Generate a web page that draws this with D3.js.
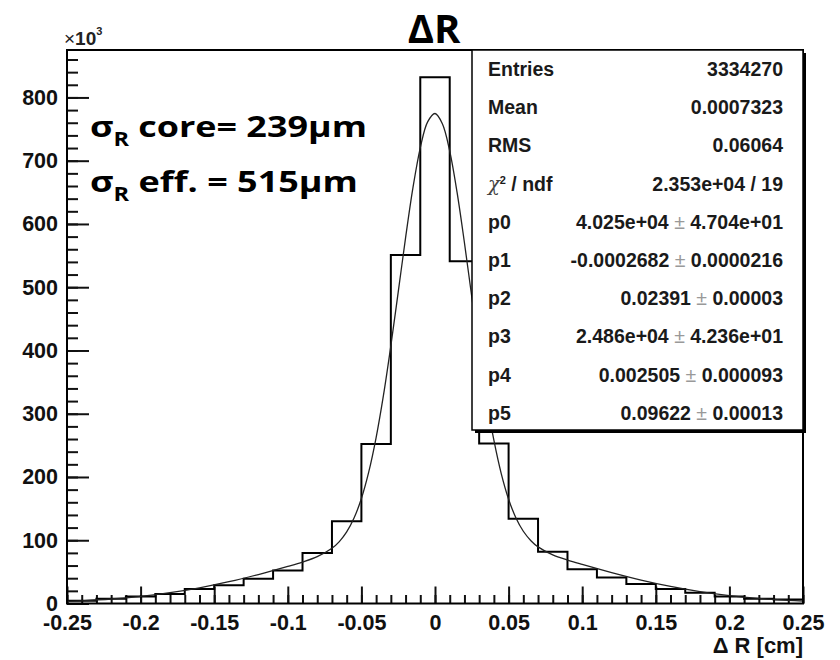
<!DOCTYPE html>
<html lang="en">
<head>
<meta charset="UTF-8">
<title>ΔR</title>
<script src="https://d3js.org/d3.v7.min.js"></script>
<style>
  body { margin: 0; background: #fff; }
  svg { display: block; }
  .axis text { font-family: "Liberation Sans", Arial, sans-serif; font-weight: bold; font-size: 21.5px; fill: #111; }
  .axis line { stroke: #111; stroke-width: 2; }
  .axis path { display: none; }
  .stats text { font-family: "Liberation Sans", Arial, sans-serif; font-weight: bold; font-size: 19.5px; fill: #1a1a1a; }
  .overlay { font-family: "Open Sans", sans-serif; font-weight: bold; fill: #000; }
</style>
</head>
<body>
<script>
// histogram, bins 0.02 cm wide, counts in units of 10^3
const binCenters = [-0.24, -0.22, -0.20, -0.18, -0.16, -0.14, -0.12, -0.10, -0.08, -0.06, -0.04, -0.02, 0,
                    0.02, 0.04, 0.06, 0.08, 0.10, 0.12, 0.14, 0.16, 0.18, 0.20, 0.22, 0.24];
const binCounts = [4.5, 7.5, 11, 15, 23, 29, 39, 52, 80, 130, 252, 551, 832,
                   541, 253, 134, 82, 54, 41, 31, 23, 17, 11, 7.5, 6.5];
const binWidth = 0.02;

// fit curve, points (x in cm, y in 10^3)
const fitX = [-0.25, -0.24, -0.22, -0.20, -0.18, -0.16, -0.14, -0.12, -0.10, -0.09, -0.08, -0.07, -0.065, -0.06,
              -0.055, -0.05, -0.045, -0.04, -0.035, -0.03, -0.025, -0.02, -0.015, -0.01, -0.005, 0,
              0.005, 0.01, 0.015, 0.02, 0.025, 0.03, 0.035, 0.04, 0.045, 0.05, 0.055, 0.06, 0.065, 0.07,
              0.08, 0.09, 0.10, 0.12, 0.14, 0.16, 0.18, 0.20, 0.22, 0.24, 0.25];
const fitY = [3.3, 4.3, 7.1, 11.3, 17.1, 24.8, 34.4, 45.8, 58.6, 65.5, 74.0, 87.2, 97.8, 113.1,
              135.1, 166.0, 208.0, 262.3, 329.3, 407.3, 492.2, 578.0, 656.9, 720.4, 761.3, 774.6,
              758.5, 715.2, 649.9, 570.3, 484.5, 400.3, 323.6, 258.2, 205.4, 164.9, 135.2, 114.2, 99.7, 89.5,
              76.9, 68.7, 61.8, 48.9, 37.1, 27.0, 18.8, 12.5, 8.0, 4.9, 3.8];

const xTicks = [-0.25, -0.2, -0.15, -0.1, -0.05, 0, 0.05, 0.1, 0.15, 0.2, 0.25];
const xTickLabels = ["-0.25", "-0.2", "-0.15", "-0.1", "-0.05", "0", "0.05", "0.1", "0.15", "0.2", "0.25"];
const yTicks = [0, 100, 200, 300, 400, 500, 600, 700, 800];
const yTickLabels = ["0", "100", "200", "300", "400", "500", "600", "700", "800"];

const statLabels = ["Entries", "Mean", "RMS", "χ² / ndf", "p0", "p1", "p2", "p3", "p4", "p5"];
const statValues = ["3334270", "0.0007323", "0.06064", "2.353e+04 / 19",
                    "4.025e+04 ± 4.704e+01", "-0.0002682 ± 0.0000216", "0.02391 ± 0.00003",
                    "2.486e+04 ± 4.236e+01", "0.002505 ± 0.000093", "0.09622 ± 0.00013"];

const width = 840, height = 660;
const margin = { top: 50, right: 37, bottom: 56.5, left: 67 };

const svg = d3.select("body").append("svg")
    .attr("width", width)
    .attr("height", height);

const x = d3.scaleLinear().domain([-0.25, 0.25]).range([margin.left, width - margin.right]);
const y = d3.scaleLinear().domain([0, 875]).range([height - margin.bottom, margin.top]);

// axes (ticks pointing into the frame, ROOT style)
svg.append("g").attr("class", "axis")
    .attr("transform", `translate(${margin.left},0)`)
    .call(d3.axisLeft(y).tickValues(d3.range(0, 875, 20)).tickSizeInner(-11).tickSizeOuter(0).tickFormat(""));
svg.append("g").attr("class", "axis")
    .attr("transform", `translate(${margin.left},0)`)
    .call(d3.axisLeft(y).tickValues(yTicks).tickSizeInner(-22).tickSizeOuter(0).tickPadding(9)
        .tickFormat((d, i) => yTickLabels[i]));

svg.append("g").attr("class", "axis")
    .attr("transform", `translate(0,${y(0)})`)
    .call(d3.axisBottom(x).tickValues(d3.range(-0.25, 0.2501, 0.01)).tickSizeInner(-8.5).tickSizeOuter(0).tickFormat(""));
svg.append("g").attr("class", "axis")
    .attr("transform", `translate(0,${y(0)})`)
    .call(d3.axisBottom(x).tickValues(xTicks).tickSizeInner(-17).tickSizeOuter(0).tickPadding(11)
        .tickFormat((d, i) => xTickLabels[i]));

// histogram outline
const steps = [[binCenters[0] - binWidth / 2, 0]];
binCenters.forEach((c, i) => {
    steps.push([c - binWidth / 2, binCounts[i]]);
    steps.push([c + binWidth / 2, binCounts[i]]);
});
steps.push([binCenters[binCenters.length - 1] + binWidth / 2, 0]);

svg.append("path")
    .datum(steps)
    .attr("fill", "none")
    .attr("stroke", "#000")
    .attr("stroke-width", 2)
    .attr("d", d3.line().x(d => x(d[0])).y(d => y(d[1])));

// fit
svg.append("path")
    .datum(fitX.map((v, i) => [v, fitY[i]]))
    .attr("fill", "none")
    .attr("stroke", "#222")
    .attr("stroke-width", 1.3)
    .attr("d", d3.line().x(d => x(d[0])).y(d => y(d[1])).curve(d3.curveCatmullRom));

// frame
svg.append("rect")
    .attr("x", x(-0.25)).attr("y", y(875))
    .attr("width", x(0.25) - x(-0.25)).attr("height", y(0) - y(875))
    .attr("fill", "none").attr("stroke", "#000").attr("stroke-width", 2);

// x10^3
const mult = svg.append("text")
    .attr("x", 64).attr("y", 45)
    .style("font-family", "'Liberation Sans', Arial, sans-serif").style("font-size", "19px").style("fill", "#222");
mult.append("tspan").text("×").style("font-weight", "normal");
mult.append("tspan").text("10").style("font-weight", "bold");
mult.append("tspan").text("3").attr("dy", -10).style("font-size", "11px").style("font-weight", "bold");

// axis title
svg.append("text")
    .attr("x", 803).attr("y", 653)
    .attr("text-anchor", "end")
    .style("font-family", "'Liberation Sans', Arial, sans-serif")
    .style("font-weight", "bold").style("font-size", "22px").style("fill", "#111")
    .text("Δ R [cm]");

// stats box
const statsX = 472, statsY = 50, statsW = 331, statsH = 380;
svg.append("rect")
    .attr("x", statsX + 3).attr("y", statsY + 3)
    .attr("width", statsW).attr("height", statsH)
    .attr("fill", "#000");
svg.append("rect")
    .attr("x", statsX).attr("y", statsY)
    .attr("width", statsW).attr("height", statsH)
    .attr("fill", "#fff").attr("stroke", "#000").attr("stroke-width", 1.5);

const stats = svg.append("g").attr("class", "stats");
statLabels.forEach((lab, i) => {
    const by = 76 + i * 38.2;
    const t = stats.append("text").attr("x", 488).attr("y", by);
    if (lab.startsWith("χ")) {
        t.append("tspan").text("χ").style("font-family", "'DejaVu Serif', serif").style("font-weight", "normal").style("font-style", "italic").style("fill", "#444");
        t.append("tspan").text("2").attr("dy", -7).style("font-size", "11px");
        t.append("tspan").text(" / ndf").attr("dy", 7);
    } else {
        t.text(lab);
    }
    const v = stats.append("text").attr("x", 783).attr("y", by).attr("text-anchor", "end");
    const parts = statValues[i].split(" ± ");
    v.append("tspan").text(parts[0]);
    if (parts.length > 1) {
        v.append("tspan").text(" ± ").style("font-weight", "normal").style("fill", "#999");
        v.append("tspan").text(parts[1]);
    }
});

// title
svg.append("text").attr("class", "overlay")
    .attr("x", 434).attr("y", 43)
    .attr("text-anchor", "middle")
    .style("font-size", "40px")
    .text("ΔR");

// sigma annotations
function sigmaLine(baseY, rest, targetW) {
    const g = svg.append("g");
    const t = g.append("text").attr("class", "overlay")
        .attr("x", 0).attr("y", 0)
        .style("font-size", "29px");
    t.append("tspan").text("σ");
    t.append("tspan").text("R").attr("dy", 9).style("font-size", "19px");
    t.append("tspan").text(rest).attr("dy", -9);
    const w = t.node().getComputedTextLength();
    g.attr("transform", `translate(90,${baseY}) scale(${targetW / w},1)`);
}
sigmaLine(137, " core= 239μm", 277);
sigmaLine(192, " eff. = 515μm", 268);
</script>
</body>
</html>
